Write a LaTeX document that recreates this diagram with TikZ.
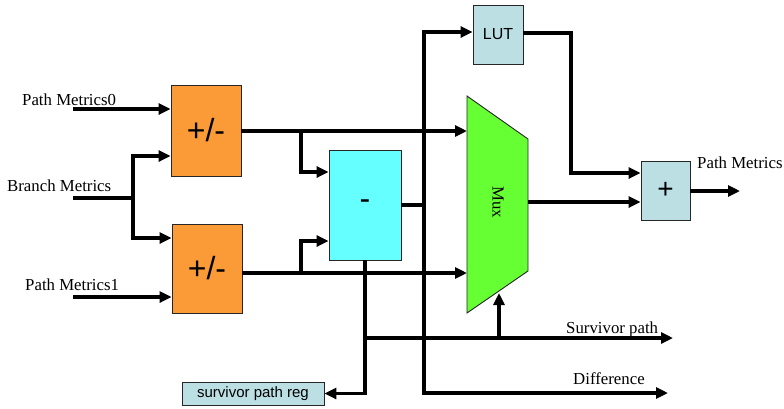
\documentclass[tikz,border=0pt]{standalone}
\usepackage{fontspec}
\setmainfont{Liberation Serif}
\setsansfont{Liberation Sans}
\usetikzlibrary{arrows.meta}
\definecolor{orangebox}{RGB}{250,155,55}
\definecolor{cyanbox}{RGB}{102,255,255}
\definecolor{lightbox}{RGB}{187,223,227}
\definecolor{muxgreen}{RGB}{102,255,51}
\begin{document}
\begin{tikzpicture}[x=1pt,y=-1pt,
  box/.style={draw=black!85,line width=0.9pt,inner sep=0pt,font=\sffamily},
  wire/.style={line width=3.4pt,line join=miter},
  arr/.style={wire,-{Triangle[length=12pt,width=11pt]}},
  lbl/.style={inner sep=0pt,font=\fontsize{16.8}{19}\selectfont}]
\path[use as bounding box] (0,0) rectangle (784,408);

% blocks
\node[box,fill=orangebox,minimum width=70pt,minimum height=91pt,font=\sffamily\fontsize{32}{34}\selectfont] (pa) at (206,130.5) {+/-};
\node[box,fill=orangebox,minimum width=70pt,minimum height=89pt,font=\sffamily\fontsize{32}{34}\selectfont] (pb) at (207,268.5) {+/-};
\node[box,fill=cyanbox,minimum width=72pt,minimum height=110pt,font=\sffamily\fontsize{32}{34}\selectfont] (sub) at (365,205) {-};
\node[box,fill=lightbox,minimum width=50pt,minimum height=59pt,font=\sffamily\fontsize{16}{18}\selectfont] (lut) at (498,34.5) {LUT};
\node[box,fill=lightbox,minimum width=49pt,minimum height=59pt,font=\sffamily\fontsize{28}{30}\selectfont] (add) at (665.5,190.5) {+};
\node[box,fill=lightbox,minimum width=142pt,minimum height=23pt,font=\sffamily\fontsize{15}{17}\selectfont] (reg) at (253,393.5) {survivor path reg};

% mux
\draw[draw=black!85,line width=0.9pt,fill=muxgreen] (467,96) -- (528,139) -- (528,271) -- (467,313) -- cycle;
\node[lbl,rotate=-90] (mux) at (498,202) {Mux};
\coordinate (muxin1) at (467,131);
\coordinate (muxin2) at (467,273);
\coordinate (muxout) at (528,202);
\coordinate (muxsel) at (499,293);

% labels
\node[lbl,anchor=base west] (lpm0) at (22,105) {Path Metrics0};
\node[lbl,anchor=base west] (lbm) at (7,191) {Branch Metrics};
\node[lbl,anchor=base west] (lpm1) at (25,290) {Path Metrics1};
\node[lbl,anchor=base west] (lpm) at (697,168) {Path Metrics};
\node[lbl,anchor=base west] (lsp) at (566,333) {Survivor path};
\node[lbl,anchor=base west] (ldf) at (573,384) {Difference};

% inputs
\coordinate (pm0s) at (73,109);
\coordinate (bms) at (73,198);
\coordinate (bj) at (133,198);
\coordinate (pm1s) at (73,297);
\draw[arr] (pm0s) -- (pa.west |- pm0s);
\draw[wire] (bms) -- (bj);
\draw[arr] (bj) |- (pa.west |- 0,156);
\draw[arr] (bj) |- (pb.west |- 0,238);
\draw[arr] (pm1s) -- (pb.west |- pm1s);

% adder outputs
\coordinate (ja) at (301,131);
\coordinate (jb) at (301,273);
\draw[arr] (pa.east |- muxin1) -- (muxin1);
\draw[arr] (ja) |- (sub.west |- 0,172);
\draw[arr] (pb.east |- muxin2) -- (muxin2);
\draw[arr] (jb) |- (sub.west |- 0,241);

% difference trunk
\coordinate (t) at (424,205);
\coordinate (dend) at (668,393);
\draw[wire] (sub.east |- t) -- (t);
\draw[arr] (t) |- (lut.west |- 0,32);
\draw[arr] (t) |- (dend);

% LUT to adder
\coordinate (lc) at (571,173);
\draw[arr] (lut.east |- 0,33) -| (lc) -- (add.west |- lc);
\draw[arr] (muxout) -- (add.west |- muxout);
\coordinate (pmend) at (740,191);
\draw[arr] (add.east |- pmend) -- (pmend);

% survivor path
\coordinate (sj) at (365,338);
\coordinate (spend) at (673,338);
\coordinate (selj) at (499,338);
\draw[arr] (sub.south) |- (reg.east);
\draw[arr] (sj) -- (spend);
\draw[arr] (selj) -- (muxsel);
\end{tikzpicture}
\end{document}
